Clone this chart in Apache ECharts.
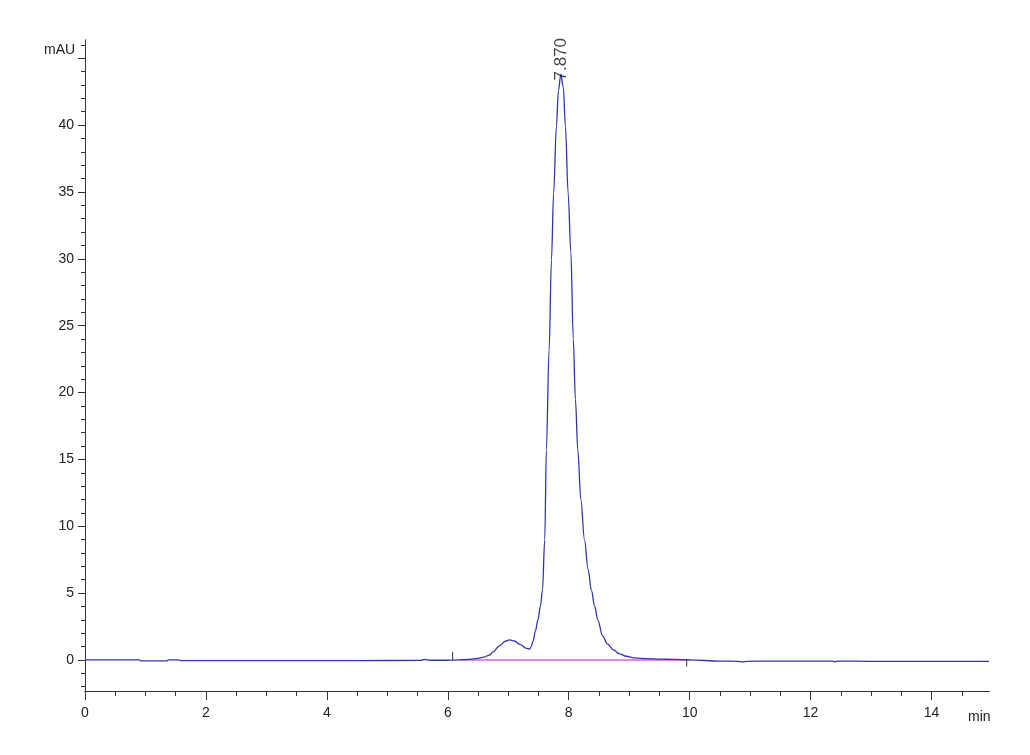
<!DOCTYPE html>
<html>
<head>
<meta charset="utf-8">
<script src="https://cdn.jsdelivr.net/npm/echarts@6/dist/echarts.min.js"></script>
<style>
html,body{margin:0;padding:0;background:#fff;}
#chart{width:1030px;height:755px;}
</style>
</head>
<body>
<div id="chart"></div>
<script>
// Retention time (min)
var times = [0, 0.9, 0.92, 1.35, 1.38, 1.55, 1.58, 3, 4.5, 5.55, 5.62, 5.7, 6.0, 6.1, 6.25, 6.4, 6.5, 6.6, 6.69, 6.75, 6.85, 6.95, 7.02, 7.1, 7.2, 7.3, 7.355, 7.38, 7.41, 7.45, 7.49, 7.53, 7.565, 7.603, 7.63, 7.675, 7.714, 7.75, 7.796, 7.83, 7.87, 7.91, 7.945, 7.99, 8.035, 8.075, 8.11, 8.15, 8.2, 8.26, 8.32, 8.375, 8.43, 8.48, 8.56, 8.64, 8.74, 8.84, 8.95, 9.09, 9.3, 9.5, 9.75, 10.0, 10.5, 10.8, 10.88, 10.95, 11.2, 12.0, 12.35, 12.4, 12.45, 13, 14, 14.95];
// Absorbance (mAU)
var signal = [0, 0, -0.07, -0.07, 0, 0, -0.05, -0.05, -0.05, -0.03, 0.05, -0.02, -0.02, -0.01, 0.03, 0.07, 0.12, 0.22, 0.37, 0.6, 1.05, 1.4, 1.5, 1.42, 1.15, 0.87, 0.82, 1.0, 1.4, 2.2, 3.0, 4.0, 5.2, 9.0, 15.7, 23.2, 29.9, 34.9, 39.9, 42.6, 43.8, 42.8, 39.9, 34.9, 30.5, 24.0, 19.5, 15.7, 12.0, 9.0, 6.8, 5.2, 4.0, 3.0, 1.8, 1.2, 0.75, 0.45, 0.28, 0.15, 0.1, 0.07, 0.04, 0.0, -0.08, -0.1, -0.16, -0.1, -0.08, -0.08, -0.08, -0.13, -0.08, -0.1, -0.1, -0.1];
// Integration baseline (min, mAU)
var integStart = [6.2, 0];
var integEnd = [10.0, 0];
// Integration event markers: [time, height]
var eventMarks = [[6.08, 0.6], [9.95, -0.5]];
// Peak annotation
var peakRT = 7.87;
var peakHeight = 43.8;
var peakText = '7.870';
// Axis ticks
var xMajor = [0, 2, 4, 6, 8, 10, 12, 14];
var xMinor = [0, 0.5, 1, 1.5, 2, 2.5, 3, 3.5, 4, 4.5, 5, 5.5, 6, 6.5, 7, 7.5, 8, 8.5, 9, 9.5, 10, 10.5, 11, 11.5, 12, 12.5, 13, 13.5, 14, 14.5];
var yLabels = [0, 5, 10, 15, 20, 25, 30, 35, 40];
var yMajor = [0, 5, 10, 15, 20, 25, 30, 35, 40, 45];
var yMinor = [-2, -1, 0, 1, 2, 3, 4, 5, 6, 7, 8, 9, 10, 11, 12, 13, 14, 15, 16, 17, 18, 19, 20, 21, 22, 23, 24, 25, 26, 27, 28, 29, 30, 31, 32, 33, 34, 35, 36, 37, 38, 39, 40, 41, 42, 43, 44, 45, 46];

var lineData = times.map(function (t, i) { return [t, signal[i]]; });
var font = 'Liberation Sans, Arial, sans-serif';
var axisColor = '#333';
var X_MIN = 0, X_MAX = 14.95, Y_MIN = -2.32, Y_MAX = 46.36;

function xAxisDef(ticks, len, labels) {
  return {
    type: 'value', position: 'bottom', min: X_MIN, max: X_MAX,
    axisLine: {show: true, onZero: false, lineStyle: {color: axisColor, width: 1}},
    axisTick: {show: true, customValues: ticks, length: len, lineStyle: {color: axisColor}},
    axisLabel: labels ? {show: true, customValues: labels, margin: 15, color: '#222', fontSize: 14, fontFamily: font} : {show: false},
    splitLine: {show: false}
  };
}
function yAxisDef(ticks, len, labels) {
  return {
    type: 'value', position: 'left', min: Y_MIN, max: Y_MAX,
    axisLine: {show: true, onZero: false, lineStyle: {color: axisColor, width: 1}},
    axisTick: {show: true, customValues: ticks, length: len, lineStyle: {color: axisColor}},
    axisLabel: labels ? {show: true, customValues: labels, margin: 11, color: '#222', fontSize: 14, fontFamily: font} : {show: false},
    splitLine: {show: false}
  };
}

var series = [
  {
    type: 'line', xAxisIndex: 0, yAxisIndex: 0, data: [integStart, integEnd],
    symbol: 'none', lineStyle: {color: '#e58ae5', width: 2}, silent: true, animation: false, z: 1
  },
  {
    type: 'line', xAxisIndex: 0, yAxisIndex: 0, data: lineData,
    symbol: 'none', smooth: 0.35, smoothMonotone: 'x',
    lineStyle: {color: '#3434a8', width: 1.3}, silent: true, animation: false, z: 2
  },
  {
    type: 'scatter', xAxisIndex: 0, yAxisIndex: 0, data: [[peakRT, peakHeight]],
    symbolSize: 0, silent: true, animation: false, z: 3,
    label: {show: true, formatter: peakText, rotate: 90, position: 'inside', align: 'center', verticalAlign: 'middle',
      offset: [15, 0], color: '#111', fontSize: 17, fontFamily: font}
  }
];
eventMarks.forEach(function (e) {
  series.push({
    type: 'line', xAxisIndex: 0, yAxisIndex: 0, data: [[e[0], 0], [e[0], e[1]]],
    symbol: 'none', lineStyle: {color: '#333', width: 1}, silent: true, animation: false, z: 2
  });
});

var chart = echarts.init(document.getElementById('chart'), null, {renderer: 'canvas'});
chart.setOption({
  backgroundColor: '#fff',
  animation: false,
  grid: {left: 85, right: 41, top: 40, bottom: 64, containLabel: false},
  xAxis: [xAxisDef(xMinor, 5, null), xAxisDef(xMajor, 9, xMajor)],
  yAxis: [yAxisDef(yMinor, 4, null), yAxisDef(yMajor, 7, yLabels)],
  series: series,
  graphic: [
    {type: 'text', left: 44, top: 43, style: {text: 'mAU', fill: '#222', font: '14px ' + font}},
    {type: 'text', left: 968, top: 710, style: {text: 'min', fill: '#222', font: '14px ' + font}}
  ]
});
</script>
</body>
</html>
